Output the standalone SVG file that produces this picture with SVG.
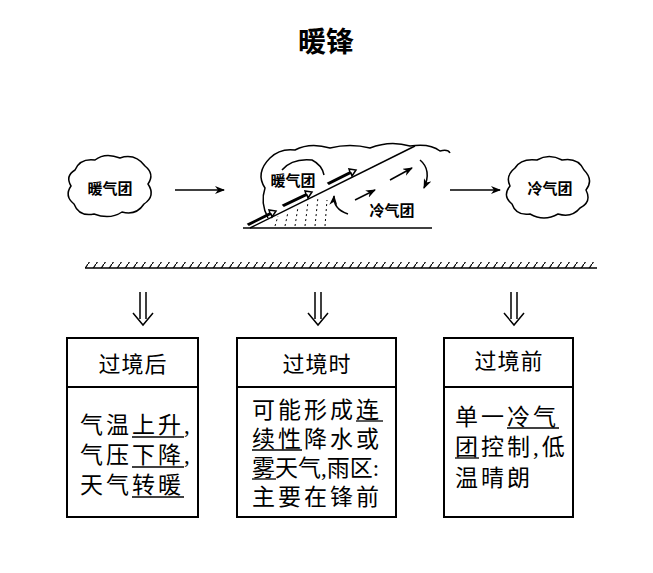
<svg xmlns="http://www.w3.org/2000/svg" width="653" height="573" viewBox="0 0 653 573">
<style>
text{font-family:"Liberation Serif","Noto Sans CJK SC",serif;fill:#000}
.t{font-size:23px;letter-spacing:3px}
.h{font-size:22px;letter-spacing:1px}
.s{font-size:15px;font-weight:bold}
.l{stroke:#000;stroke-width:1.5;fill:none}
.b{stroke:#000;stroke-width:2;fill:#fff}
.u{stroke:#000;stroke-width:1.3}
</style>
<defs>
<marker id="a" markerWidth="10" markerHeight="8" refX="9" refY="4" orient="auto" markerUnits="userSpaceOnUse"><path d="M0,0L10,4L0,8L3,4Z" fill="#000"/></marker>
<pattern id="h" width="8" height="12" patternUnits="userSpaceOnUse"><line x1="0" y1="12" x2="8" y2="0" stroke="#000" stroke-width="1.2"/></pattern>
</defs>
<text x="326" y="52" text-anchor="middle" style="font-size:28px;font-weight:bold">暖锋</text>
<g id="warmair">
<path class="l" d="M75,170 q5,-12 20,-10 q10,-8 25,-2 q15,-5 25,8 q10,8 3,18 q8,12 -4,20 q-8,12 -22,8 q-12,8 -28,2 q-15,3 -20,-10 q-10,-8 -3,-18 q-6,-10 4,-16z"/>
<text class="s" x="110" y="194" text-anchor="middle">暖气团</text>
</g>
<g id="coldair">
<path class="l" d="M515,168 q6,-10 22,-8 q12,-7 25,0 q16,-3 22,10 q10,10 2,20 q6,12 -6,18 q-8,10 -22,6 q-14,8 -28,0 q-14,2 -18,-10 q-10,-8 -2,-18 q-5,-10 5,-18z"/>
<text class="s" x="550" y="194" text-anchor="middle">冷气团</text>
</g>
<g id="front">
<line class="l" x1="243" y1="228" x2="432" y2="228"/>
<line class="l" x1="250" y1="228" x2="415" y2="146"/>
<path class="l" d="M268,218 q-8,-15 -3,-30 q-10,-15 5,-30 q10,-10 25,-8 q15,-8 35,-2 q20,-5 40,0 q20,-8 40,-2 q20,-3 30,5 q8,-2 10,2"/>
<path class="l" d="M282,170 q10,-12 30,-10 q10,5 12,15"/>
<text class="s" x="293" y="186" text-anchor="middle">暖气团</text>
<g class="l">
<path d="M248,224 l22,-11 l-1,-3 l7,1 l-4,6 l-1,-3 l-22,11z"/>
<path d="M283,205 l23,-11 l-1,-3 l7,1 l-4,6 l-1,-3 l-23,11z"/>
<path d="M328,183 l22,-11 l-1,-3 l7,1 l-4,6 l-1,-3 l-22,11z"/>
</g>
<line class="l" x1="355" y1="200" x2="375" y2="190" marker-end="url(#a)"/>
<line class="l" x1="390" y1="180" x2="412" y2="168" marker-end="url(#a)"/>
<path class="l" d="M420,160 q12,10 4,28" marker-end="url(#a)"/>
<path class="l" d="M348,214 q-15,-5 -14,-18" marker-end="url(#a)"/>
<text class="s" x="392" y="216" text-anchor="middle">冷气团</text>
<g stroke="#000" stroke-width="1" stroke-dasharray="2,3">
<line x1="275" y1="226" x2="278" y2="216"/><line x1="285" y1="226" x2="288" y2="212"/>
<line x1="295" y1="226" x2="298" y2="207"/><line x1="305" y1="226" x2="308" y2="202"/>
<line x1="315" y1="226" x2="318" y2="197"/><line x1="325" y1="226" x2="327" y2="200"/>
</g>
</g>
<g id="connectors">
<line class="l" x1="175" y1="190" x2="224" y2="190" marker-end="url(#a)"/>
<line class="l" x1="450" y1="190" x2="500" y2="190" marker-end="url(#a)"/>
<g class="l">
<path d="M140,292v27 M146,292v27 M133,313l10,12l10,-12"/>
<path d="M315,292v27 M321,292v27 M308,313l10,12l10,-12"/>
<path d="M511,292v27 M517,292v27 M504,313l10,12l10,-12"/>
</g>
</g>
<g id="ground">
<rect x="85" y="262" width="512" height="6" fill="url(#h)"/>
<line class="l" x1="85" y1="268" x2="597" y2="268"/>
</g>
<g id="after">
<rect class="b" x="67" y="338" width="131" height="179"/>
<line class="b" x1="67" y1="387" x2="198" y2="387"/>
<text class="h" x="133" y="372" text-anchor="middle">过境后</text>
<text class="t" x="80" y="433">气温上升,</text>
<text class="t" x="80" y="463">气压下降,</text>
<text class="t" x="80" y="493">天气转暖</text>
<g class="u"><line x1="132" y1="437" x2="184" y2="437"/><line x1="132" y1="467" x2="184" y2="467"/><line x1="132" y1="497" x2="184" y2="497"/></g>
</g>
<g id="during">
<rect class="b" x="237" y="338" width="159" height="179"/>
<line class="b" x1="237" y1="387" x2="396" y2="387"/>
<text class="h" x="317" y="372" text-anchor="middle">过境时</text>
<text class="t" x="252" y="418">可能形成连</text>
<text class="t" x="252" y="447">续性降水或</text>
<text class="t" x="252" y="476" style="letter-spacing:0">雾天气,雨区:</text>
<text class="t" x="252" y="505">主要在锋前</text>
<g class="u"><line x1="356" y1="421" x2="383" y2="421"/><line x1="252" y1="450" x2="302" y2="450"/><line x1="252" y1="479" x2="276" y2="479"/></g>
</g>
<g id="before">
<rect class="b" x="444" y="338" width="129" height="179"/>
<line class="b" x1="444" y1="387" x2="573" y2="387"/>
<text class="h" x="509" y="369" text-anchor="middle">过境前</text>
<text class="t" x="455" y="425">单一冷气</text>
<text class="t" x="455" y="455">团控制,低</text>
<text class="t" x="455" y="486">温晴朗</text>
<g class="u"><line x1="507" y1="428" x2="559" y2="428"/><line x1="455" y1="458" x2="479" y2="458"/></g>
</g>
</svg>
